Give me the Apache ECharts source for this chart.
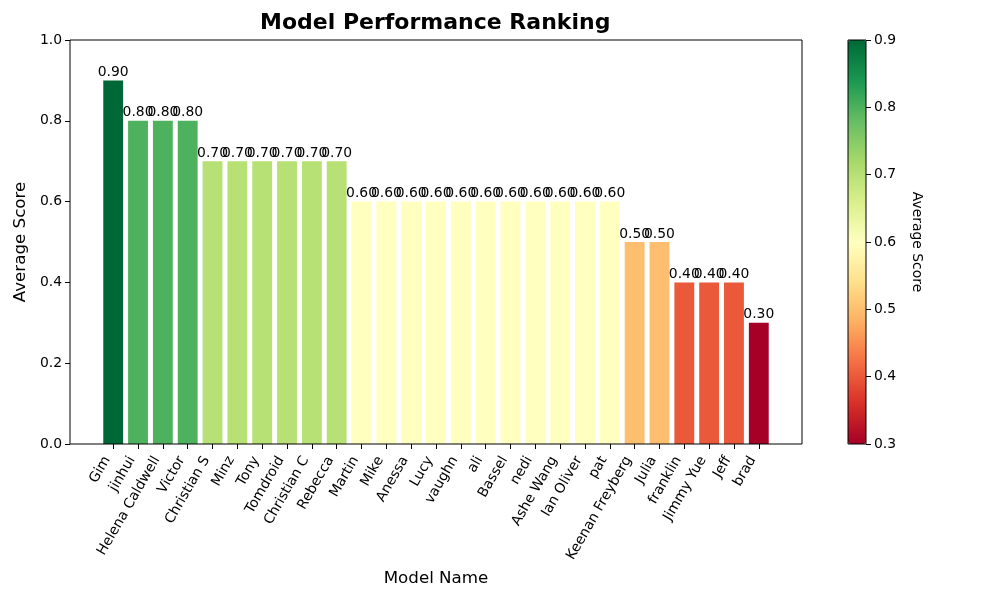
<!DOCTYPE html>
<html>
<head>
<meta charset="utf-8">
<script src="https://cdn.jsdelivr.net/npm/echarts@6/dist/echarts.min.js"></script>
<style>
  html, body { margin: 0; padding: 0; background: #fff; }
  #chart { width: 1000px; height: 600px; }
</style>
</head>
<body>
<div id="chart"></div>
<script>
// 資料
const names = [
  'Gim', 'jinhui', 'Helena Caldwell', 'Victor', 'Christian S', 'Minz', 'Tony',
  'Tomdroid', 'Christian C', 'Rebecca', 'Martin', 'Mike', 'Anessa', 'Lucy',
  'vaughn', 'ali', 'Bassel', 'nedi', 'Ashe Wang', 'Ian Oliver', 'pat',
  'Keenan Freyberg', 'Julia', 'franklin', 'Jimmy Yue', 'Jeff', 'brad'
];
const scores = [
  0.9, 0.8, 0.8, 0.8, 0.7, 0.7, 0.7,
  0.7, 0.7, 0.7, 0.6, 0.6, 0.6, 0.6,
  0.6, 0.6, 0.6, 0.6, 0.6, 0.6, 0.6,
  0.5, 0.5, 0.4, 0.4, 0.4, 0.3
];
const cbarTicks = [0.3, 0.4, 0.5, 0.6, 0.7, 0.8, 0.9];

// RdYlGn
const rdYlGn = ['#a50026', '#d73027', '#f46d43', '#fdae61', '#fee08b', '#ffffbf',
  '#d9ef8b', '#a6d96a', '#66bd63', '#1a9850', '#006837'];

const font = 'DejaVu Sans';
const idx = names.map((_, i) => i);
// matplotlib 預設 bar 寬 0.8，邊界 5%
const span = names.length - 1 + 0.8;
const pad = span * 0.05;
const xMin = -0.4 - pad;
const xMax = names.length - 1 + 0.4 + pad;

const chart = echarts.init(document.getElementById('chart'));

const tickStyle = { show: true, inside: false, length: 5, lineStyle: { color: '#000' } };

const option = {
  animation: false,
  textStyle: { fontFamily: font },
  title: {
    text: 'Model Performance Ranking',
    left: 260,
    top: 12,
    padding: 0,
    textStyle: { fontFamily: font, fontSize: 22, fontWeight: 'bold', color: '#000' }
  },
  grid: [
    {
      left: 70, right: 198, top: 40, bottom: 156, z: 5,
      show: true, borderColor: '#000', borderWidth: 1, backgroundColor: 'transparent'
    },
    {
      left: 848, width: 18, top: 40, height: 404, z: 10,
      show: true, borderColor: '#000', borderWidth: 1, backgroundColor: 'transparent'
    }
  ],
  xAxis: [
    {
      type: 'value',
      gridIndex: 0,
      min: xMin,
      max: xMax,
      name: 'Model Name',
      nameLocation: 'middle',
      nameGap: 124,
      nameTextStyle: { fontFamily: font, fontSize: 16.7, color: '#000' },
      axisLine: { show: false, onZero: false },
      splitLine: { show: false },
      axisTick: Object.assign({ customValues: idx }, tickStyle),
      axisLabel: {
        rotate: 60,
        margin: 17,
        verticalAlign: 'bottom',
        fontFamily: font,
        fontSize: 13.9,
        color: '#000',
        customValues: idx,
        formatter: v => names[v]
      }
    },
    {
      type: 'value',
      gridIndex: 1,
      show: false,
      axisLine: { show: false, onZero: false },
      axisTick: { show: false },
      axisLabel: { show: false },
      splitLine: { show: false }
    }
  ],
  yAxis: [
    {
      type: 'value',
      gridIndex: 0,
      min: 0,
      max: 1,
      interval: 0.2,
      name: 'Average Score',
      nameLocation: 'middle',
      nameGap: 39,
      nameTextStyle: { fontFamily: font, fontSize: 16.7, color: '#000' },
      axisLine: { show: false, onZero: false },
      splitLine: { show: false },
      axisTick: tickStyle,
      axisLabel: {
        margin: 8,
        fontFamily: font,
        fontSize: 13.9,
        color: '#000',
        formatter: v => v.toFixed(1)
      }
    },
    {
      type: 'value',
      gridIndex: 1,
      position: 'right',
      min: cbarTicks[0],
      max: cbarTicks[cbarTicks.length - 1],
      interval: 0.1,
      name: 'Average Score',
      nameLocation: 'middle',
      nameRotate: -90,
      nameGap: 44,
      nameTextStyle: { fontFamily: font, fontSize: 13.9, color: '#000' },
      axisLine: { show: false, onZero: false },
      splitLine: { show: false },
      axisTick: tickStyle,
      axisLabel: {
        margin: 8,
        fontFamily: font,
        fontSize: 13.9,
        color: '#000',
        formatter: v => v.toFixed(1)
      }
    }
  ],
  visualMap: {
    type: 'continuous',
    seriesIndex: 0,
    dimension: 1,
    min: cbarTicks[0],
    max: cbarTicks[cbarTicks.length - 1],
    left: 848,
    top: 40,
    itemWidth: 18,
    itemHeight: 404,
    padding: 0,
    calculable: false,
    hoverLink: false,
    z: 1,
    inRange: { color: rdYlGn }
  },
  series: [
    {
      type: 'bar',
      xAxisIndex: 0,
      yAxisIndex: 0,
      barWidth: 19.86,
      data: scores.map((v, i) => [i, v]),
      label: {
        show: true,
        position: 'top',
        distance: 1,
        fontFamily: font,
        fontSize: 13.9,
        color: '#000',
        formatter: p => p.value[1].toFixed(2)
      }
    }
  ]
};

chart.setOption(option);
</script>
</body>
</html>
